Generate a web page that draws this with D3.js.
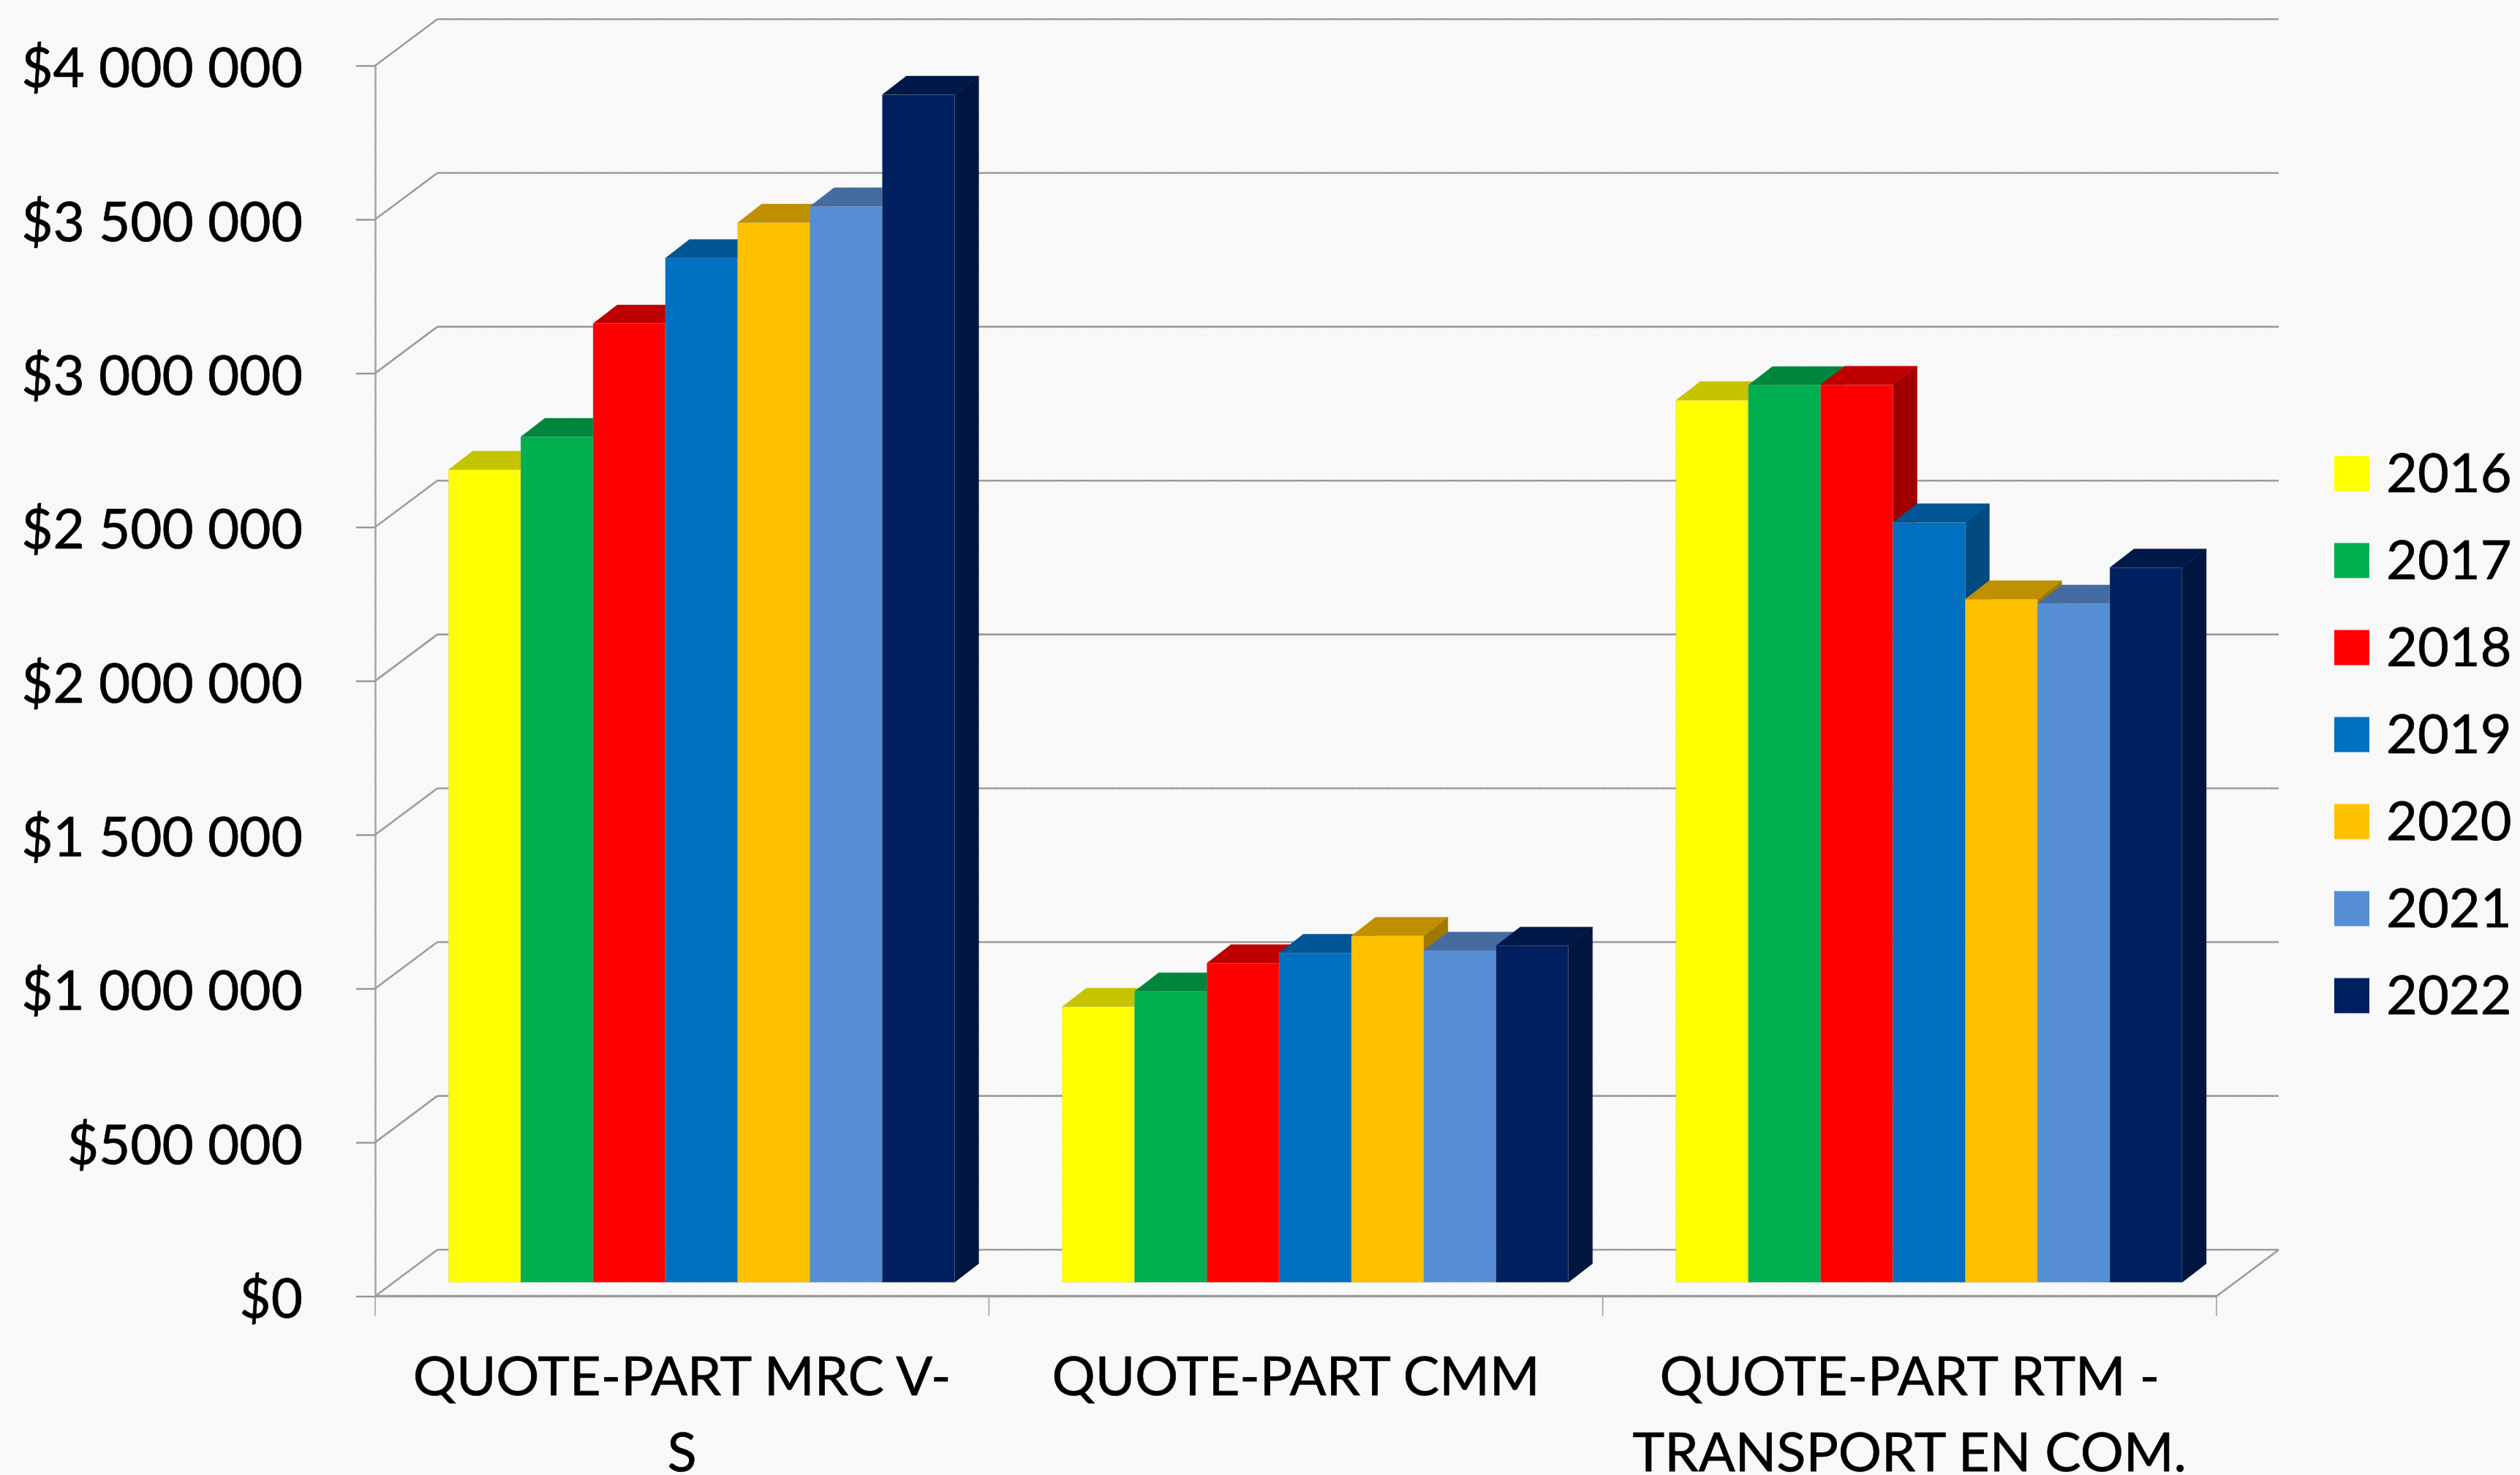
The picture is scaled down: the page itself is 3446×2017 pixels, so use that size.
<!DOCTYPE html>
<html>
<head>
<meta charset="utf-8">
<script src="https://cdn.jsdelivr.net/npm/d3@7"></script>
<style>
  body { margin: 0; background: #f9f9f9; }
  svg { display: block; }
  text { font-family: Lato, "Open Sans", sans-serif; fill: #000; stroke: #000; stroke-width: 0.7px; }
</style>
</head>
<body>
<script>
// values
let categories = ["QUOTE-PART MRC V-S", "QUOTE-PART CMM", "QUOTE-PART RTM - TRANSPORT EN COM."];
let categoryLines = [["QUOTE-PART MRC V-", "S"], ["QUOTE-PART CMM"], ["QUOTE-PART RTM -", "TRANSPORT EN COM."]];
let years = ["2016", "2017", "2018", "2019", "2020", "2021", "2022"];

let values2016 = [2641000, 895600, 2867000];
let values2017 = [2748000, 945500, 2916000];
let values2018 = [3116000, 1037000, 2917000];
let values2019 = [3329000, 1070600, 2470000];
let values2020 = [3444000, 1126000, 2220000];
let values2021 = [3497000, 1078000, 2206000];
let values2022 = [3860000, 1094000, 2323000];
let series = [values2016, values2017, values2018, values2019, values2020, values2021, values2022];

let yTicks = [0, 500000, 1000000, 1500000, 2000000, 2500000, 3000000, 3500000, 4000000];

// front, top and side colours of each year
let frontColors = ["#ffff00", "#00b050", "#ff0000", "#0070c0", "#ffc000", "#558ed5", "#002060"];
let topColors = ["#c4c400", "#00853c", "#bf0000", "#005594", "#c09000", "#446ca0", "#001848"];
let sideColors = ["#a8a800", "#006f32", "#a00000", "#004a80", "#a07800", "#385a86", "#00153f"];

let width = 3446;
let height = 2017;
let margin = ({top: 89.7, right: 415, bottom: 244.5, left: 513});

// the fake 3d: wall depth, bar depth and how far the bars sit in from the front edge
let wall = ({dx: 85, dy: 63.5});
let bar = ({dx: 33, dy: 25.5});
let inset = ({dx: 26.6, dy: 19});

let y = d3.scaleLinear()
  .domain([0, 4000000])
  .range([height - margin.bottom, margin.top]);

let x = d3.scaleBand()
  .domain(categories)
  .range([margin.left, width - margin.right])
  .paddingInner(0.1755)
  .paddingOuter(0.08775);

let xYear = d3.scaleBand()
  .domain(years)
  .range([0, x.bandwidth()]);

let money = d3.formatLocale({currency: ["$", ""], thousands: " ", grouping: [3], decimal: "."}).format("$,");

let svg = d3.select("body").append("svg")
  .attr("width", width)
  .attr("height", height);

// faint dotted backdrop
let pattern = svg.append("defs").append("pattern")
  .attr("id", "paper")
  .attr("width", 8)
  .attr("height", 8)
  .attr("patternUnits", "userSpaceOnUse");
pattern.append("rect").attr("width", 8).attr("height", 8).attr("fill", "#fafafa");
pattern.append("rect").attr("width", 4).attr("height", 4).attr("fill", "#f7f7f7");
pattern.append("rect").attr("x", 4).attr("y", 4).attr("width", 4).attr("height", 4).attr("fill", "#f7f7f7");
svg.append("rect").attr("width", width).attr("height", height).attr("fill", "url(#paper)");

// back wall lines and the diagonals going to them
let x0 = margin.left;
let x1 = width - margin.right;
let grid = svg.append("g").attr("stroke", "#9c9c9c").attr("stroke-width", 2.6).attr("fill", "none");

grid.selectAll(".back")
  .data(yTicks)
  .join("line")
    .attr("class", "back")
    .attr("x1", x0 + wall.dx)
    .attr("x2", x1 + wall.dx)
    .attr("y1", d => y(d) - wall.dy)
    .attr("y2", d => y(d) - wall.dy);

grid.selectAll(".diag")
  .data(yTicks)
  .join("line")
    .attr("class", "diag")
    .attr("x1", x0)
    .attr("x2", x0 + wall.dx)
    .attr("y1", d => y(d))
    .attr("y2", d => y(d) - wall.dy);

grid.append("line")
  .attr("x1", x1)
  .attr("x2", x1 + wall.dx)
  .attr("y1", y(0))
  .attr("y2", y(0) - wall.dy);

grid.append("line")
  .attr("x1", x0)
  .attr("x2", x1)
  .attr("y1", y(0))
  .attr("y2", y(0))
  .attr("stroke-width", 3.4);

// y axis
let yAxis = svg.append("g")
  .attr("transform", `translate(${margin.left},0)`)
  .call(d3.axisLeft(y).tickValues(yTicks).tickFormat(money).tickSizeInner(26).tickSizeOuter(0).tickPadding(73));
yAxis.select(".domain").attr("stroke", "#a0a0a0").attr("stroke-width", 2.4);
yAxis.selectAll(".tick line").attr("stroke", "#969696").attr("stroke-width", 2.4);
yAxis.selectAll(".tick text").attr("font-size", 74.7).attr("dy", "0.39em");

// x axis ticks sit between the categories
let xEdges = d3.range(categories.length + 1).map(i => x0 + i * x.step());
svg.append("g")
  .attr("stroke", "#a0a0a0")
  .attr("stroke-width", 1.6)
  .selectAll("line")
  .data(xEdges)
  .join("line")
    .attr("x1", d => d)
    .attr("x2", d => d)
    .attr("y1", y(0))
    .attr("y2", y(0) + 27);

// category labels
let labels = svg.append("g")
  .attr("text-anchor", "middle")
  .attr("font-size", 74)
  .selectAll("text")
  .data(categories)
  .join("text")
    .attr("x", d => x(d) + x.bandwidth() / 2)
    .attr("y", 1908);

labels.selectAll("tspan")
  .data((d, i) => categoryLines[i])
  .join("tspan")
    .attr("x", function() { return this.parentNode.getAttribute("x"); })
    .attr("dy", (d, i) => i ? 103.7 : 0)
    .text(d => d);

// bars, left to right so the next one covers the side of the one before
let points = p => p.map(q => q.join(",")).join(" ");

categories.forEach((cat, c) => {
  let g = svg.append("g");

  years.forEach((year, s) => {
    let left = x(cat) + xYear(year) + inset.dx;
    let right = left + xYear.bandwidth();
    let top = y(series[s][c]) - inset.dy;
    let bottom = y(0) - inset.dy;

    g.append("polygon")
      .attr("fill", sideColors[s])
      .attr("stroke", sideColors[s])
      .attr("stroke-width", 0.5)
      .attr("points", points([[right, top], [right + bar.dx, top - bar.dy], [right + bar.dx, bottom - bar.dy], [right, bottom]]));

    g.append("polygon")
      .attr("fill", topColors[s])
      .attr("stroke", topColors[s])
      .attr("stroke-width", 0.5)
      .attr("points", points([[left, top], [left + bar.dx, top - bar.dy], [right + bar.dx, top - bar.dy], [right, top]]));

    g.append("rect")
      .attr("fill", frontColors[s])
      .attr("stroke", "rgba(170,170,170,0.35)")
      .attr("stroke-width", 0.8)
      .attr("x", left)
      .attr("y", top)
      .attr("width", xYear.bandwidth())
      .attr("height", bottom - top);
  });
});

// legend
let legendY = d3.scaleBand()
  .domain(years)
  .range([588, 1421]);

let legend = svg.append("g")
  .selectAll("g")
  .data(years)
  .join("g")
    .attr("transform", d => `translate(3192,${legendY(d) + legendY.bandwidth() / 2})`);

legend.append("rect")
  .attr("y", -24)
  .attr("width", 48)
  .attr("height", 48)
  .attr("fill", (d, i) => frontColors[i]);

legend.append("text")
  .attr("x", 71)
  .attr("y", 25)
  .attr("font-size", 74)
  .text(d => d);
</script>
</body>
</html>
